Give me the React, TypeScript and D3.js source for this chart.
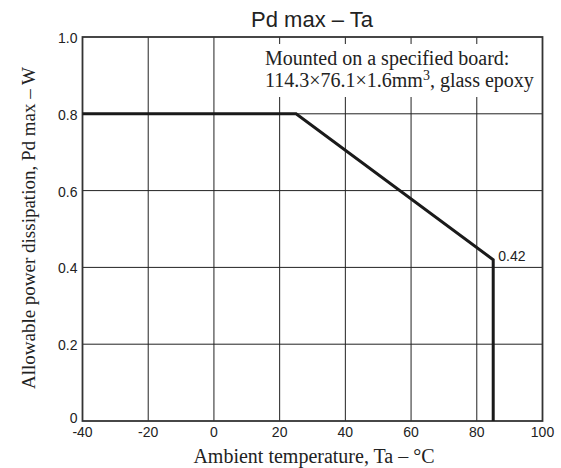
import React from 'react';
import * as d3 from 'd3';

const tempTicks = [-40, -20, 0, 20, 40, 60, 80, 100];
const powerTicks = [0, 0.2, 0.4, 0.6, 0.8, 1.0];
const powerTickLabels = ['0', '0.2', '0.4', '0.6', '0.8', '1.0'];
const curveTemp = [-40, 25, 85, 85];
const curvePower = [0.8, 0.8, 0.42, 0];

const App = () => {
  const width = 561;
  const height = 468;
  const marginLeft = 82.5;
  const marginRight = 18.5;
  const marginTop = 37;
  const marginBottom = 47;

  const x = d3.scaleLinear().domain([-40, 100]).range([marginLeft, width - marginRight]);
  const y = d3.scaleLinear().domain([0, 1]).range([height - marginBottom, marginTop]);

  const line = d3.line<number>()
    .x((d, i) => x(curveTemp[i]))
    .y((d, i) => y(curvePower[i]));

  const sans = 'Liberation Sans, Arial, sans-serif';
  const serif = 'Liberation Serif, Times New Roman, serif';

  return (
    <svg width={width} height={height} style={{ position: 'absolute', left: 0, top: 0, background: '#fff' }}>
      <g stroke="#222" strokeWidth={1}>
        {tempTicks.slice(1, -1).map(t => (
          <line key={'gx' + t} x1={x(t)} x2={x(t)} y1={y(0)} y2={y(1)} />
        ))}
        {powerTicks.slice(1, -1).map(t => (
          <line key={'gy' + t} x1={x(-40)} x2={x(100)} y1={y(t)} y2={y(t)} />
        ))}
      </g>
      {/* white box behind the board note */}
      <rect x={260} y={44} width={280} height={53} fill="#fff" />
      <text fontFamily={serif} fontSize={20} fill="#222">
        <tspan x={265} y={64.5}>Mounted on a specified board:</tspan>
        <tspan x={265} y={87}>114.3×76.1×1.6mm<tspan fontSize={14} dy={-7}>3</tspan><tspan dy={7}>, glass epoxy</tspan></tspan>
      </text>
      <rect x={x(-40)} y={y(1)} width={x(100) - x(-40)} height={y(0) - y(1)} fill="none" stroke="#333" strokeWidth={1.8} />
      <path d={line(curvePower) || ''} fill="none" stroke="#1a1a1a" strokeWidth={3} strokeLinejoin="miter" />
      <text x={x(85) + 5} y={y(0.42) + 1} fontFamily={sans} fontSize={14} fill="#222">0.42</text>
      <g fontFamily={sans} fontSize={14} fill="#222">
        {tempTicks.map(t => (
          <text key={'tx' + t} x={x(t)} y={y(0) + 16} textAnchor="middle">{t}</text>
        ))}
        {powerTicks.map((t, i) => (
          <text key={'ty' + t} x={x(-40) - 5} y={y(t) + (t === 0 ? 2 : 6)} textAnchor="end">{powerTickLabels[i]}</text>
        ))}
      </g>
      <text x={312} y={27} textAnchor="middle" fontFamily={sans} fontSize={22} fill="#222">Pd max – Ta</text>
      <text x={314} y={463} textAnchor="middle" fontFamily={serif} fontSize={20} fill="#222">Ambient temperature, Ta – °C</text>
      <text transform={`translate(35,228) rotate(-90)`} textAnchor="middle" fontFamily={serif} fontSize={19} fill="#222">Allowable power dissipation, Pd max – W</text>
    </svg>
  );
};

export default App;
